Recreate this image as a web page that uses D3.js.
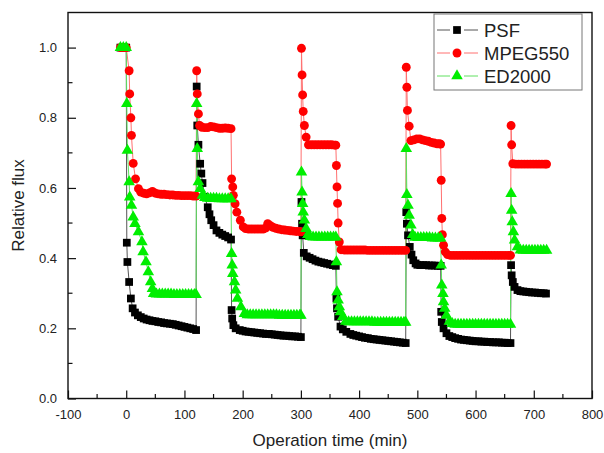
<!DOCTYPE html>
<html><head><meta charset="utf-8">
<script src="https://cdn.jsdelivr.net/npm/d3@7"></script>
<style>
html,body{margin:0;padding:0;background:#fff;}
svg text{font-family:"Liberation Sans",Arial,sans-serif;fill:#222;}
</style></head>
<body><svg id="c" width="604" height="453"></svg>
<script>
// ---- data: [time (min), relative flux] ----
const psf = [
[-10,1.0],[-5,1.0],[0,1.0],
[1,0.444],[2,0.389],[5,0.332],[8,0.285],[11,0.257],[15,0.245],[20,0.237],[25,0.232],[30,0.228],[35,0.225],[40,0.223],[45,0.221],[50,0.220],[55,0.218],[60,0.217],[65,0.215],[70,0.214],[75,0.213],[80,0.212],[85,0.210],[90,0.208],[95,0.206],[100,0.204],[105,0.202],[110,0.200],[115,0.198],[120,0.195],
[121,0.889],[122,0.778],[124,0.723],[127,0.669],[129,0.641],[131,0.614],[135,0.575],[140,0.545],[143,0.525],[146,0.508],[150,0.494],[155,0.479],[160,0.472],[165,0.467],[170,0.463],[175,0.459],[180,0.453],
[181,0.252],[182,0.228],[184,0.209],[188,0.200],[195,0.195],[200,0.193],[205,0.191],[210,0.190],[215,0.189],[220,0.188],[225,0.187],[230,0.186],[235,0.185],[240,0.184],[245,0.184],[250,0.183],[255,0.182],[260,0.181],[265,0.180],[270,0.179],[275,0.179],[280,0.178],[285,0.177],[290,0.177],[295,0.176],[300,0.175],
[301,0.560],[302,0.498],[303,0.465],[305,0.415],[310,0.405],[315,0.401],[320,0.397],[325,0.393],[330,0.390],[335,0.388],[340,0.386],[345,0.384],[350,0.382],[355,0.380],[360,0.378],
[361,0.285],[362,0.257],[364,0.233],[368,0.205],[372,0.197],[378,0.190],[385,0.184],[390,0.181],[395,0.179],[400,0.177],[405,0.175],[410,0.173],[415,0.172],[420,0.170],[425,0.169],[430,0.168],[435,0.167],[440,0.166],[445,0.165],[450,0.164],[455,0.163],[460,0.162],[465,0.161],[470,0.160],[475,0.159],[480,0.158],
[481,0.531],[482,0.498],[484,0.465],[487,0.432],[490,0.410],[493,0.394],[497,0.385],[500,0.381],[505,0.380],[510,0.380],[515,0.380],[520,0.379],[525,0.379],[530,0.379],[535,0.378],[540,0.378],
[541,0.247],[542,0.218],[545,0.200],[550,0.186],[555,0.178],[560,0.175],[565,0.172],[570,0.170],[575,0.168],[580,0.167],[585,0.166],[590,0.165],[595,0.164],[600,0.163],[605,0.163],[610,0.162],[615,0.162],[620,0.161],[625,0.161],[630,0.160],[635,0.160],[640,0.160],[645,0.159],[650,0.159],[655,0.158],[660,0.158],
[661,0.380],[662,0.351],[664,0.332],[667,0.318],[672,0.309],[677,0.306],[682,0.305],[687,0.304],[692,0.303],[697,0.302],[702,0.302],[707,0.301],[712,0.300],[717,0.300],[721,0.299]
];
const mpeg550 = [
[-10,1.0],[-5,1.0],[0,1.0],
[5,0.934],[6,0.868],[8,0.800],[9,0.750],[12,0.670],[16,0.626],[21,0.598],[25,0.588],[30,0.585],[35,0.583],[40,0.586],[45,0.590],[50,0.585],[55,0.583],[60,0.582],[65,0.582],[70,0.581],[75,0.580],[80,0.580],[85,0.579],[90,0.579],[95,0.578],[100,0.578],[105,0.578],[110,0.578],[115,0.577],[120,0.577],
[121,0.934],[122,0.868],[124,0.811],[126,0.778],[130,0.773],[135,0.772],[140,0.772],[145,0.775],[150,0.774],[155,0.772],[160,0.770],[165,0.770],[170,0.771],[175,0.770],[180,0.769],
[181,0.626],[183,0.603],[184,0.579],[187,0.555],[190,0.531],[196,0.508],[201,0.489],[205,0.484],[210,0.483],[215,0.483],[220,0.483],[225,0.483],[230,0.483],[235,0.483],[240,0.486],[243,0.498],[247,0.493],[252,0.488],[257,0.485],[262,0.483],[267,0.481],[272,0.480],[277,0.479],[282,0.478],[287,0.477],[292,0.476],[297,0.476],[300,0.475],
[301,0.998],[302,0.922],[303,0.865],[304,0.818],[306,0.778],[309,0.745],[313,0.723],[318,0.723],[323,0.723],[328,0.723],[333,0.723],[338,0.723],[343,0.723],[348,0.723],[353,0.723],[358,0.722],[360,0.722],
[361,0.664],[362,0.603],[363,0.556],[364,0.500],[366,0.446],[369,0.424],[375,0.423],[380,0.423],[385,0.423],[390,0.423],[395,0.423],[400,0.423],[405,0.423],[410,0.423],[415,0.422],[420,0.422],[425,0.422],[430,0.422],[435,0.422],[440,0.422],[445,0.422],[450,0.422],[455,0.422],[460,0.422],[465,0.422],[470,0.422],[475,0.422],[480,0.422],
[481,0.944],[482,0.887],[483,0.821],[486,0.776],[489,0.735],[494,0.737],[499,0.740],[504,0.740],[509,0.737],[514,0.735],[519,0.733],[524,0.730],[529,0.728],[534,0.726],[538,0.726],[540,0.725],
[541,0.622],[542,0.513],[543,0.467],[545,0.437],[548,0.418],[552,0.410],[557,0.408],[562,0.408],[567,0.408],[572,0.408],[577,0.408],[582,0.408],[587,0.408],[592,0.408],[597,0.408],[602,0.408],[607,0.408],[612,0.408],[617,0.408],[622,0.408],[627,0.408],[632,0.408],[637,0.408],[642,0.408],[647,0.408],[652,0.408],[657,0.408],[660,0.408],
[661,0.778],[662,0.723],[664,0.669],[669,0.668],[674,0.668],[679,0.668],[684,0.668],[689,0.668],[694,0.668],[699,0.668],[704,0.668],[709,0.668],[714,0.668],[719,0.668],[722,0.668]
];
const ed2000 = [
[-10,1.0],[-5,1.0],[0,1.0],
[1,0.840],[2,0.707],[5,0.617],[6,0.574],[9,0.550],[12,0.517],[15,0.498],[21,0.475],[27,0.446],[29,0.418],[34,0.389],[38,0.361],[42,0.332],[45,0.313],[47,0.299],[52,0.297],[57,0.297],[62,0.297],[67,0.297],[72,0.297],[77,0.297],[82,0.296],[87,0.296],[92,0.296],[97,0.296],[102,0.296],[107,0.296],[112,0.296],[117,0.296],[120,0.296],
[121,0.840],[122,0.712],[124,0.617],[127,0.598],[131,0.579],[135,0.572],[140,0.570],[145,0.570],[150,0.570],[155,0.570],[160,0.569],[165,0.569],[170,0.569],[175,0.569],[180,0.569],
[181,0.413],[182,0.380],[183,0.356],[186,0.332],[188,0.309],[191,0.285],[197,0.261],[203,0.242],[208,0.238],[213,0.238],[218,0.238],[223,0.238],[228,0.238],[233,0.238],[238,0.238],[243,0.238],[248,0.238],[253,0.238],[258,0.238],[263,0.237],[268,0.237],[273,0.237],[278,0.237],[283,0.237],[288,0.237],[293,0.237],[298,0.237],[300,0.237],
[301,0.645],[302,0.588],[303,0.555],[304,0.531],[306,0.508],[309,0.484],[312,0.467],[316,0.461],[321,0.460],[326,0.460],[331,0.460],[336,0.460],[341,0.460],[346,0.460],[351,0.460],[356,0.460],[360,0.460],
[361,0.389],[362,0.304],[364,0.280],[366,0.261],[368,0.247],[372,0.233],[377,0.220],[382,0.218],[387,0.218],[392,0.218],[397,0.218],[402,0.218],[407,0.218],[412,0.218],[417,0.218],[422,0.218],[427,0.217],[432,0.217],[437,0.217],[442,0.217],[447,0.217],[452,0.217],[457,0.217],[462,0.217],[467,0.217],[472,0.217],[477,0.217],[480,0.217],
[481,0.712],[482,0.581],[484,0.550],[486,0.522],[489,0.494],[492,0.467],[496,0.459],[501,0.458],[506,0.458],[511,0.458],[516,0.458],[521,0.458],[526,0.457],[531,0.457],[536,0.457],[540,0.457],
[541,0.380],[542,0.323],[544,0.299],[545,0.275],[547,0.257],[550,0.237],[555,0.220],[560,0.213],[565,0.211],[570,0.211],[575,0.211],[580,0.211],[585,0.211],[590,0.211],[595,0.211],[600,0.211],[605,0.211],[610,0.211],[615,0.211],[620,0.211],[625,0.211],[630,0.211],[635,0.211],[640,0.211],[645,0.211],[650,0.211],[655,0.211],[660,0.211],
[661,0.584],[662,0.536],[663,0.503],[665,0.475],[667,0.451],[672,0.432],[677,0.423],[682,0.422],[687,0.422],[692,0.422],[697,0.422],[702,0.422],[707,0.422],[712,0.422],[717,0.422],[722,0.422]
];
const seriesNames = ["PSF","MPEG550","ED2000"];
const xTicks = [-100,0,100,200,300,400,500,600,700,800];
const yTicks = [0.0,0.2,0.4,0.6,0.8,1.0];

// ---- layout ----
const L=68, R=592, T=12.5, B=398.5;
const svg = d3.select("#c");
const x = d3.scaleLinear().domain([-100,800]).range([L,R]);
const y = d3.scaleLinear().domain([0,1.1]).range([B,T]);

const styles = [
  {data:psf, line:"#555", fill:"#000", shape:d3.symbolSquare, size:60},
  {data:mpeg550, line:"#ff7070", fill:"#ff0000", shape:d3.symbolCircle, size:62},
  {data:ed2000, line:"#60e060", fill:"#00ee00", shape:d3.symbolTriangle, size:58}
];

// axes (ticks inside)
const xAxis = d3.axisBottom(x).tickValues(xTicks).tickFormat(d=>String(d)).tickSizeInner(-8).tickSizeOuter(0).tickPadding(11);
const gx = svg.append("g").attr("transform",`translate(0,${B})`).call(xAxis);
const yAxis = d3.axisLeft(y).tickValues(yTicks).tickFormat(d=>d.toFixed(1)).tickSizeInner(-8).tickSizeOuter(0).tickPadding(11);
const gy = svg.append("g").attr("transform",`translate(${L},0)`).call(yAxis);
[gx,gy].forEach(g=>{
  g.select(".domain").remove();
  g.selectAll("line").attr("stroke","#111").attr("stroke-width",1.2);
  g.selectAll("text").attr("font-size",13).attr("fill","#222").style("font-family","Liberation Sans, Arial, sans-serif");
});
// minor ticks
const xMinor = d3.range(-50,800,100);
svg.append("g").selectAll("line").data(xMinor).join("line")
  .attr("x1",d=>x(d)).attr("x2",d=>x(d)).attr("y1",B).attr("y2",B-4.5)
  .attr("stroke","#111").attr("stroke-width",1.2);
const yMinor = [0.1,0.3,0.5,0.7,0.9];
svg.append("g").selectAll("line").data(yMinor).join("line")
  .attr("y1",d=>y(d)).attr("y2",d=>y(d)).attr("x1",L).attr("x2",L+4.5)
  .attr("stroke","#111").attr("stroke-width",1.2);

// frame
svg.append("rect").attr("x",L).attr("y",T).attr("width",R-L).attr("height",B-T)
  .attr("fill","none").attr("stroke","#111").attr("stroke-width",1.4);

// series
const lineGen = d3.line().x(d=>x(d[0])).y(d=>y(d[1]));
styles.forEach(s=>{
  svg.append("path").datum(s.data).attr("d",lineGen)
    .attr("fill","none").attr("stroke",s.line).attr("stroke-width",1);
});
styles.forEach(s=>{
  const sym = d3.symbol().type(s.shape).size(s.size);
  svg.append("g").selectAll("path").data(s.data).join("path")
    .attr("d",sym).attr("transform",d=>`translate(${x(d[0])},${y(d[1])})`)
    .attr("fill",s.fill);
});

// axis titles
svg.append("text").attr("x",(L+R)/2).attr("y",446).attr("text-anchor","middle")
  .attr("font-size",17).text("Operation time (min)");
svg.append("text").attr("transform",`translate(24,${(T+B)/2}) rotate(-90)`).attr("text-anchor","middle")
  .attr("font-size",17).text("Relative flux");

// legend
const lg = svg.append("g");
lg.append("rect").attr("x",434).attr("y",14).attr("width",148).attr("height",76)
  .attr("fill","#fff").attr("stroke","#777").attr("stroke-width",1);
seriesNames.forEach((n,i)=>{
  const s = styles[i], yy = 30 + i*23;
  [[437,450],[464,478]].forEach(seg=>{
    lg.append("line").attr("x1",seg[0]).attr("x2",seg[1]).attr("y1",yy).attr("y2",yy)
      .attr("stroke",s.line).attr("stroke-width",1);
  });
  lg.append("path").attr("d",d3.symbol().type(s.shape).size(s.size)())
    .attr("transform",`translate(457,${yy})`).attr("fill",s.fill);
  lg.append("text").attr("x",484).attr("y",yy+6.5).attr("font-size",18.5).text(n);
});
</script></body></html>
